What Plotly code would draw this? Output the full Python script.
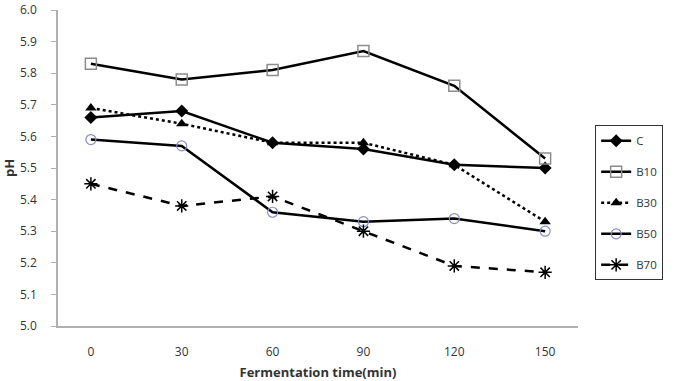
import plotly.graph_objects as go

times = ["0", "30", "60", "90", "120", "150"]
c_vals = [5.66, 5.68, 5.58, 5.56, 5.51, 5.50]
b10_vals = [5.83, 5.78, 5.81, 5.87, 5.76, 5.53]
b30_vals = [5.69, 5.64, 5.58, 5.58, 5.51, 5.33]
b50_vals = [5.59, 5.57, 5.36, 5.33, 5.34, 5.30]
b70_vals = [5.45, 5.38, 5.41, 5.30, 5.19, 5.17]
y_ticks = [5.0, 5.1, 5.2, 5.3, 5.4, 5.5, 5.6, 5.7, 5.8, 5.9, 6.0]
y_tick_labels = ["5.0", "5.1", "5.2", "5.3", "5.4", "5.5", "5.6", "5.7", "5.8", "5.9", "6.0"]

series = [
    ("C", c_vals, "solid", dict(symbol="diamond", size=10, color="black")),
    ("B10", b10_vals, "solid", dict(symbol="square-open", size=11, color="#8c8c8c", line=dict(width=1.5, color="#8c8c8c"))),
    ("B30", b30_vals, "dot", dict(symbol="triangle-up", size=10, color="black")),
    ("B50", b50_vals, "solid", dict(symbol="circle-open", size=10, color="#8a8acb", line=dict(width=1.2, color="#8a8acb"))),
    ("B70", b70_vals, "dash", dict(symbol="asterisk-open", size=11, color="black", line=dict(width=1.5, color="black"))),
]

fig = go.Figure()
for i, (name, vals, dash, marker) in enumerate(series):
    fig.add_trace(go.Scatter(
        x=times, y=vals, name=name, mode="lines+markers",
        line=dict(color="black", width=2.5, dash=dash),
        marker=marker, legendgroup=f"g{i}",
    ))

font_family = "'Open Sans', sans-serif"
fig.update_layout(
    width=683, height=381,
    margin=dict(l=58, r=105, t=10, b=55, autoexpand=False),
    paper_bgcolor="white", plot_bgcolor="white",
    font=dict(family=font_family, size=12, color="#333333"),
    showlegend=True,
    legend=dict(
        x=1.033, y=0.635, xanchor="left", yanchor="top",
        bordercolor="#333333", borderwidth=1,
        font=dict(size=11.5, color="#333333"),
        tracegroupgap=12,
    ),
    xaxis=dict(
        type="category", showline=True, linecolor="#b0b0b0", linewidth=1.5,
        showgrid=False, ticks="", tickfont=dict(size=12), ticklabelstandoff=14,
        automargin=False,
        title=dict(text="<b>Fermentation time(min)</b>", font=dict(size=13, color="#333333"), standoff=13),
    ),
    yaxis=dict(
        range=[5.0, 6.0], tickvals=y_ticks, ticktext=y_tick_labels, showline=True,
        linecolor="#b0b0b0", linewidth=1.5, showgrid=False, zeroline=False,
        ticks="outside", ticklen=5, tickcolor="#b0b0b0", tickfont=dict(size=12),
        ticklabelstandoff=12, ticklabeloverflow="allow", automargin=False,
        title=dict(text="<b>pH</b>", font=dict(size=13, color="#333333"), standoff=2),
    ),
)

fig.write_html("out.html")
